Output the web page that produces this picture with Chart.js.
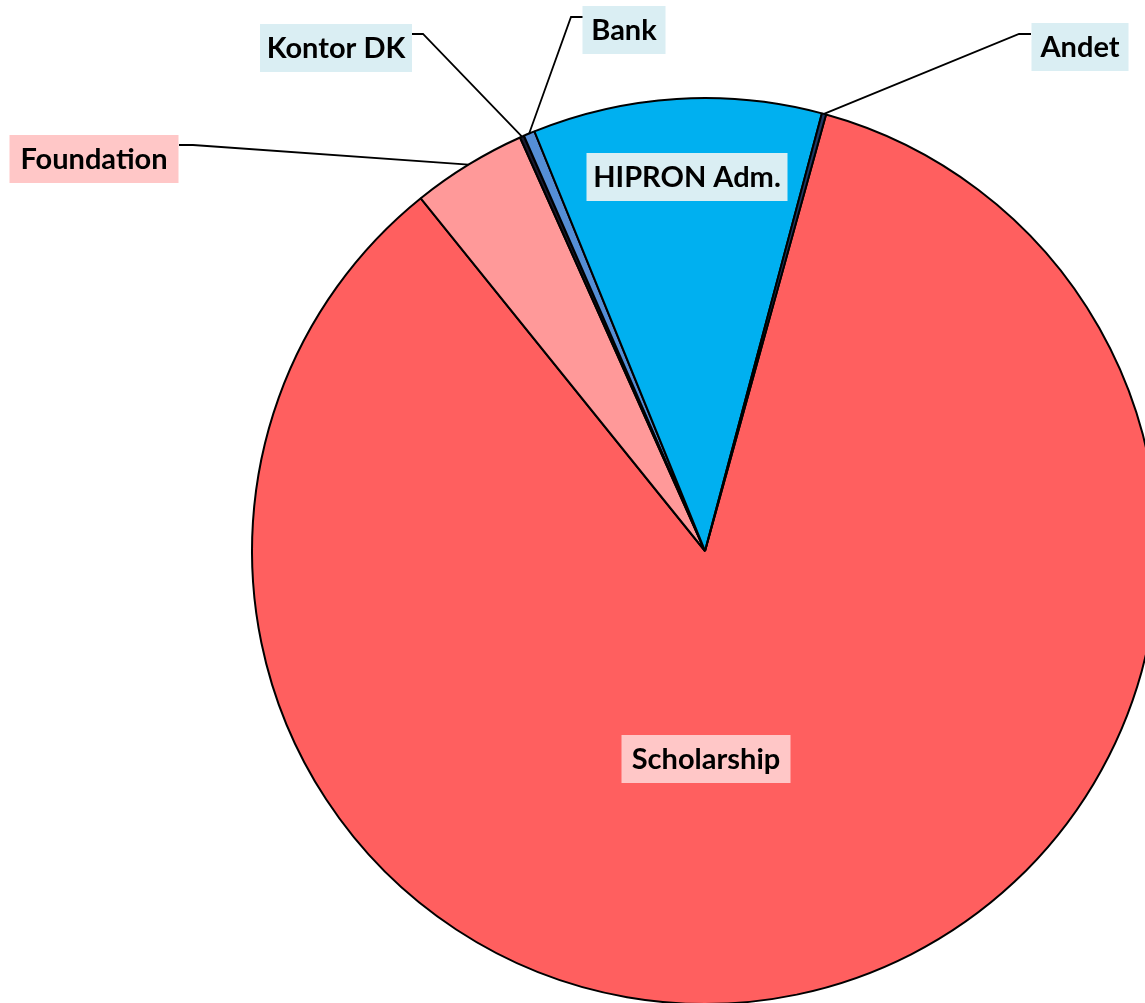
<!DOCTYPE html>
<html>
<head>
<meta charset="utf-8">
<script src="https://cdn.jsdelivr.net/npm/chart.js@4/dist/chart.umd.min.js"></script>
<style>
  html, body { margin: 0; padding: 0; background: #ffffff; overflow: hidden; width: 1145px; height: 1003px; }
  #wrap { position: absolute; left: 0; top: 0; width: 1410px; height: 1102px; }
</style>
</head>
<body>
<div id="wrap"><canvas id="c" width="1410" height="1102"></canvas></div>
<script>
// ---- data ----
const categories = ['Scholarship', 'Foundation', 'Kontor DK', 'Bank', 'HIPRON Adm.', 'Andet'];
const shares = [84.9, 4.1, 0.15, 0.4, 10.3, 0.15];

// ---- styles ----
const sliceColors = ['#FF5F5F', '#FF9999', '#1A1A2E', '#558ED5', '#00B0F0', '#203864'];
const labelBoxColors = ['#FFC7C7', '#FFC7C7', '#DAEEF3', '#DAEEF3', '#DAEEF3', '#DAEEF3'];
// label placement (box centre, box width, optional leader elbow + attach point)
const labelLayout = {
  'Scholarship': { cx: 706, cy: 759, w: 169 },
  'Foundation':  { cx: 94,  cy: 159, w: 169, elbow: [193, 145], attach: [179, 145] },
  'Kontor DK':   { cx: 336, cy: 48,  w: 152, elbow: [423, 34],  attach: [412, 34] },
  'Bank':        { cx: 624, cy: 30,  w: 83,  elbow: [571, 17],  attach: [583, 17] },
  'HIPRON Adm.': { cx: 687, cy: 177, w: 201 },
  'Andet':       { cx: 1080, cy: 47, w: 97,  elbow: [1019, 34], attach: [1031, 34] }
};
const FONT = 'bold 29px Lato';
const BOXH = 48;

const labelPlugin = {
  id: 'boxLabels',
  afterDraw(chart) {
    const ctx = chart.ctx;
    const meta = chart.getDatasetMeta(0);
    ctx.save();
    ctx.font = FONT;
    meta.data.forEach((arc, i) => {
      const name = categories[i];
      const lay = labelLayout[name];
      if (!lay) return;
      const p = arc.getProps(['x', 'y', 'startAngle', 'endAngle', 'outerRadius'], true);
      const mid = (p.startAngle + p.endAngle) / 2;
      const ax = p.x + Math.cos(mid) * p.outerRadius;
      const ay = p.y + Math.sin(mid) * p.outerRadius;
      if (lay.elbow) {
        ctx.beginPath();
        ctx.strokeStyle = '#000';
        ctx.lineWidth = 1.8;
        ctx.moveTo(ax, ay);
        ctx.lineTo(lay.elbow[0], lay.elbow[1]);
        ctx.lineTo(lay.attach[0], lay.attach[1]);
        ctx.stroke();
      }
      const bw = Math.max(lay.w, ctx.measureText(name).width + 12);
      ctx.fillStyle = labelBoxColors[i];
      ctx.fillRect(lay.cx - bw / 2, lay.cy - BOXH / 2, bw, BOXH);
      ctx.fillStyle = '#000';
      ctx.textAlign = 'center';
      ctx.textBaseline = 'middle';
      ctx.fillText(name, lay.cx, lay.cy + 1);
    });
    ctx.restore();
  }
};

new Chart(document.getElementById('c'), {
  type: 'pie',
  data: {
    labels: categories,
    datasets: [{
      data: shares,
      backgroundColor: sliceColors,
      borderColor: '#000000',
      borderWidth: 2,
      radius: 453
    }]
  },
  options: {
    responsive: false,
    devicePixelRatio: 1,
    animation: false,
    rotation: 15.5,
    layout: { padding: 0 },
    plugins: {
      legend: { display: false },
      tooltip: { enabled: false },
      title: { display: false }
    }
  },
  plugins: [labelPlugin]
});
</script>
</body>
</html>
